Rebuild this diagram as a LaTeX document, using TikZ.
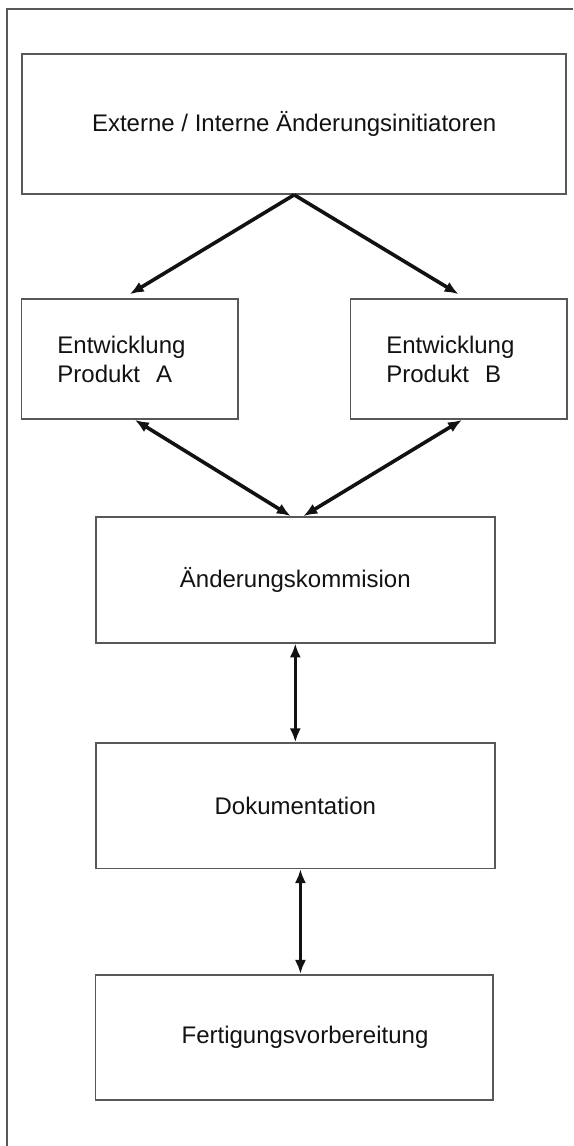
\documentclass[tikz,border=0pt]{standalone}
\usepackage{fontspec}
\setmainfont{Liberation Sans}
\usepackage{tikz}
\usetikzlibrary{arrows.meta}
\definecolor{my_black}{HTML}{121212}
\definecolor{my_gray}{HTML}{585858}

\begin{document}
\begin{tikzpicture}[
    kasten/.style={draw=my_gray, line width=0.8pt, inner sep=0pt,
        font=\fontsize{12}{14.5}\selectfont, text=my_black},
    seitenkasten/.style={kasten, minimum height=2.11cm, text width=2.54cm,
        inner xsep=0.63cm, align=left},
    verbindung/.style={draw=my_black, line width=1.8pt,
        -{Latex[length=7pt, width=5.6pt]}},
    doppelt/.style={verbindung,
        {Latex[length=7pt, width=5.6pt]}-{Latex[length=7pt, width=5.6pt]}}
]

\useasboundingbox (0,0) rectangle (10.07,20.14);

%% ================================================================
%% RAHMEN (links und oben)
%% ================================================================
\draw[draw=my_gray, line width=0.9pt] (0.12,0) -- (0.12,19.98) -- (10.07,19.98);

%% ================================================================
%% KAESTEN
%% ================================================================
\node[kasten, minimum width=9.56cm, minimum height=2.46cm]
    (init) at (5.17,17.96) {Externe / Interne Änderungsinitiatoren};

%% --- Entwicklung A / B ---
\node[seitenkasten] (entwA) at (2.28,13.83) {Entwicklung\\Produkt\ \ A};
\node[seitenkasten] (entwB) at (8.06,13.83) {Entwicklung\\Produkt\ \ B};

%% --- Mittlere Spalte ---
\node[kasten, minimum width=7.01cm, minimum height=2.21cm]
    (komm) at (5.19,9.95) {Änderungskommision};
\node[kasten, minimum width=7.01cm, minimum height=2.20cm]
    (doku) at (5.19,5.98) {Dokumentation};
\node[kasten, minimum width=6.99cm, minimum height=2.20cm]
    (fert) at (5.17,1.91) {\hspace{0.38cm}Fertigungsvorbereitung};

%% ================================================================
%% PFEILE
%% ================================================================
\draw[verbindung] (init.south) -- ([yshift=2pt]entwA.north);
\draw[verbindung] (init.south) -- ([yshift=2pt]entwB.north);

\draw[doppelt] ([xshift=0.09cm]entwA.south) -- ([xshift=-0.08cm]komm.north);
\draw[doppelt] ([xshift=0.06cm]entwB.south) -- ([xshift=0.14cm]komm.north);

\draw[doppelt] (komm.south) -- (doku.north);
\draw[doppelt] ([xshift=0.09cm]doku.south) -- ([xshift=0.11cm]fert.north);

\end{tikzpicture}
\end{document}
